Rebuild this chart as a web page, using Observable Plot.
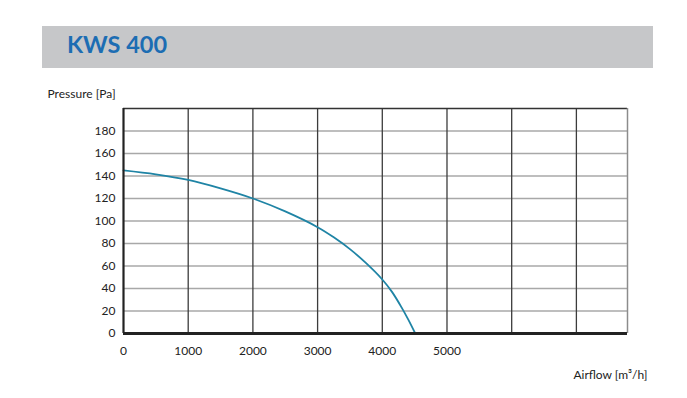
<!DOCTYPE html>
<html><head><meta charset="utf-8">
<script src="https://cdn.jsdelivr.net/npm/d3@7"></script>
<script src="https://cdn.jsdelivr.net/npm/@observablehq/plot@0.6"></script>
<style>
body{margin:0;background:#fff;font-family:Lato,"Open Sans",sans-serif;}
#head{height:72px;position:relative;width:687px}
#banner{position:absolute;left:42px;top:26px;width:611px;height:42px;background:#c6c7c9}
#title{position:absolute;left:25px;top:7px;line-height:23px;font-weight:bold;font-size:23.5px;color:#1c6db3;font-family:Lato,sans-serif}
</style></head>
<body>
<div id="head"><div id="banner"><div id="title">KWS 400</div></div></div>
<div id="chart"></div>
<script>
const airflow  = [0, 500, 1000, 1500, 2000, 2500, 3000, 3250, 3500, 3750, 4000, 4150, 4300, 4400, 4510];
const pressure = [145, 141.5, 136.5, 129, 120, 108.5, 94.5, 85.5, 75, 62.5, 48, 37, 23, 12.5, 0];
const xTicks = [0, 1000, 2000, 3000, 4000, 5000];
const xGrid = [1000, 2000, 3000, 4000, 5000, 6000, 7000];
const yTicks = [0, 20, 40, 60, 80, 100, 120, 140, 160, 180];
const yGrid = [20, 40, 60, 80, 100, 120, 140, 160, 180];
const xMax = 7790, yMax = 200;

const data = airflow.map((q, i) => ({q, p: pressure[i]}));

const chart = Plot.plot({
  width: 687, height: 326,
  marginLeft: 123, marginRight: 60, marginTop: 36, marginBottom: 65,
  style: {fontFamily: "Lato, sans-serif", fontSize: "12px", color: "#222", background: "transparent"},
  x: {domain: [0, xMax], ticks: xTicks, tickSize: 0, tickPadding: 13, label: null, tickFormat: d => String(d)},
  y: {domain: [0, yMax], ticks: yTicks, tickSize: 0, tickPadding: 8, label: null},
  marks: [
    Plot.ruleY(yGrid, {stroke: "#a8a8a8", strokeWidth: 1.5}),
    Plot.ruleX(xGrid, {stroke: "#3c3c3c", strokeWidth: 1.3}),
    Plot.ruleY([yMax], {stroke: "#333", strokeWidth: 1.3}),
    Plot.ruleX([xMax], {stroke: "#8c8c8c", strokeWidth: 1.5}),
    Plot.line(data, {x: "q", y: "p", stroke: "#1f84a5", strokeWidth: 1.8, curve: "catmull-rom"}),
    Plot.ruleX([0], {stroke: "#222", strokeWidth: 2.2}),
    Plot.ruleY([0], {stroke: "#222", strokeWidth: 3}),
    Plot.text(["Pressure [Pa]"], {frameAnchor: "top-left", dx: -76, dy: -11, textAnchor: "start", lineAnchor: "bottom", fill: "#222"}),
    Plot.text(["Airflow [m³/h]"], {frameAnchor: "bottom-right", dx: 20, dy: 45, textAnchor: "end", lineAnchor: "bottom", fill: "#222"})
  ]
});
document.getElementById("chart").append(chart);
</script>
</body></html>
